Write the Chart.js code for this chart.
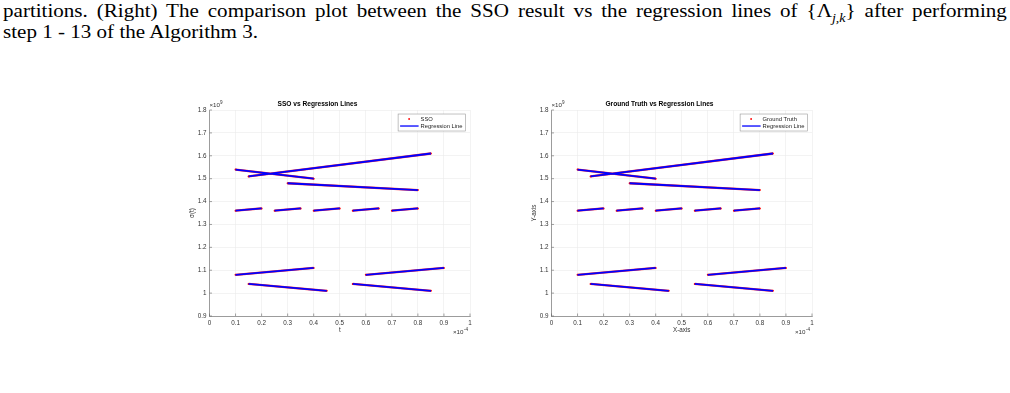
<!DOCTYPE html>
<html>
<head>
<meta charset="utf-8">
<script src="https://cdn.jsdelivr.net/npm/chart.js@4.4.1/dist/chart.umd.min.js"></script>
<style>
  body { margin: 0; background: #fff; width: 1010px; height: 393px; overflow: hidden; position: relative; }
  .cap { position: absolute; left: 3px; font-family: "Liberation Serif", "DejaVu Serif", serif; font-size: 18px; line-height: 21px; color: #000; white-space: nowrap; transform: scaleX(1.17); transform-origin: 0 0; }
  .l1 { top: 1px; width: 858px; text-align: justify; text-align-last: justify; white-space: normal; }
  .l2 { top: 22px; }
  sub { font-size: 12px; line-height: 0; }
  canvas { position: absolute; }
</style>
</head>
<body>
<div class="cap l1">partitions. (Right) The comparison plot between the SSO result vs the regression lines of {&Lambda;<sub><i>j,k</i></sub>} after performing</div>
<div class="cap l2">step 1 - 13 of the Algorithm 3.</div>
<canvas id="left" width="320" height="260" style="left:165px;top:90px;width:320px;height:260px"></canvas>
<canvas id="right" width="320" height="260" style="left:507px;top:90px;width:320px;height:260px"></canvas>
<script>
// segment end points, t in units of 1e-4, value in units of 1e9
const segT0 = [0.10, 0.15, 0.30, 0.10, 0.25, 0.40, 0.55, 0.70, 0.10, 0.15, 0.55, 0.60];
const segT1 = [0.40, 0.85, 0.80, 0.20, 0.35, 0.50, 0.65, 0.80, 0.40, 0.45, 0.85, 0.90];
const segY0 = [1.54, 1.51, 1.48, 1.36, 1.36, 1.36, 1.36, 1.36, 1.08, 1.04, 1.04, 1.08];
const segY1 = [1.50, 1.61, 1.45, 1.37, 1.37, 1.37, 1.37, 1.37, 1.11, 1.01, 1.01, 1.11];
const xTicks = [0, 0.1, 0.2, 0.3, 0.4, 0.5, 0.6, 0.7, 0.8, 0.9, 1];
const yTicks = [0.9, 1.0, 1.1, 1.2, 1.3, 1.4, 1.5, 1.6, 1.7, 1.8];

const FONT = '"Liberation Sans", Arial, sans-serif';

function segPoints() {
  const pts = [];
  for (let i = 0; i < segT0.length; i++) {
    pts.push({x: segT0[i], y: segY0[i]});
    pts.push({x: segT1[i], y: segY1[i]});
    pts.push({x: segT1[i], y: null});
  }
  return pts;
}

function fmt(v) {
  return String(Number(v.toFixed(1)));
}

// legend box, exponent labels and inward ticks, matlab style
const matlabBits = {
  id: 'matlabBits',
  afterDraw(chart) {
    const ctx = chart.ctx;
    const a = chart.chartArea;
    const xs = chart.scales.x, ys = chart.scales.y;
    ctx.save();
    // inward ticks
    ctx.strokeStyle = '#666';
    ctx.lineWidth = 0.6;
    ctx.beginPath();
    xTicks.forEach(v => {
      const px = xs.getPixelForValue(v);
      ctx.moveTo(px, a.bottom);
      ctx.lineTo(px, a.bottom - 2.5);
    });
    yTicks.forEach(v => {
      const py = ys.getPixelForValue(v);
      ctx.moveTo(a.left, py);
      ctx.lineTo(a.left + 2.5, py);
    });
    ctx.stroke();

    // exponents
    ctx.fillStyle = '#333';
    ctx.textBaseline = 'middle';
    ctx.textAlign = 'left';
    ctx.font = '6.2px ' + FONT;
    ctx.fillText('\u00d710', a.left, a.top - 4.5);
    ctx.font = '4.6px ' + FONT;
    ctx.fillText('9', a.left + 10.5, a.top - 7.5);
    ctx.font = '6.2px ' + FONT;
    ctx.fillText('\u00d710', a.right - 17, a.bottom + 16.5);
    ctx.font = '4.6px ' + FONT;
    ctx.fillText('-4', a.right - 6, a.bottom + 13.5);

    // legend
    const labels = chart.options.plugins.matlabBits.labels;
    ctx.font = '5.8px ' + FONT;
    const tw = Math.max(...labels.map(l => ctx.measureText(l).width));
    const bw = 22.5 + tw + 3;
    const bx = a.right - 4.5 - bw, by = a.top + 4;
    ctx.fillStyle = '#fff';
    ctx.fillRect(bx, by, bw, 17);
    ctx.strokeStyle = '#999';
    ctx.lineWidth = 0.6;
    ctx.strokeRect(bx, by, bw, 17);
    ctx.fillStyle = '#ff0000';
    ctx.beginPath();
    ctx.arc(bx + 11, by + 5, 0.9, 0, Math.PI * 2);
    ctx.fill();
    ctx.strokeStyle = '#0000ff';
    ctx.lineWidth = 1.3;
    ctx.beginPath();
    ctx.moveTo(bx + 2, by + 12);
    ctx.lineTo(bx + 20.5, by + 12);
    ctx.stroke();
    ctx.fillStyle = '#222';
    ctx.fillText(labels[0], bx + 22.5, by + 5);
    ctx.fillText(labels[1], bx + 22.5, by + 12);
    ctx.restore();
  }
};

function makeChart(id, title, refLabel, xTitle, yTitle) {
  new Chart(document.getElementById(id), {
    type: 'line',
    data: {
      datasets: [
        {
          label: 'Regression Line',
          data: segPoints(),
          borderColor: '#0000ff',
          borderWidth: 1.8,
          pointRadius: 0,
          order: 0
        },
        {
          label: refLabel,
          data: segPoints(),
          borderColor: '#ff3030',
          borderWidth: 2.3,
          pointRadius: 1,
          pointBackgroundColor: '#ff0000',
          pointBorderWidth: 0,
          order: 1
        }
      ]
    },
    options: {
      responsive: false,
      animation: false,
      spanGaps: false,
      layout: { padding: { left: 0, right: 15, top: 0, bottom: 0 } },
      plugins: {
        legend: { display: false },
        tooltip: { enabled: false },
        title: {
          display: true,
          text: title,
          color: '#000',
          font: { family: FONT, size: 6.6, weight: 'bold', lineHeight: 1.2 },
          padding: { top: 10.5, bottom: 1.6 }
        },
        matlabBits: { labels: [refLabel, 'Regression Line'] }
      },
      scales: {
        x: {
          type: 'linear',
          min: 0,
          max: 1,
          afterFit: s => { s.height = 34; },
          afterBuildTicks: s => { s.ticks = xTicks.map(v => ({value: v})); },
          ticks: { padding: 3, color: '#333', font: { family: FONT, size: 6.3 }, callback: fmt, maxRotation: 0 },
          grid: { color: '#ebebeb', lineWidth: 0.6, drawTicks: false },
          border: { display: true, color: '#777', width: 0.7 },
          title: { display: true, text: xTitle, color: '#333', font: { family: FONT, size: 6.3 }, padding: { top: 0, bottom: 15.5 } }
        },
        y: {
          type: 'linear',
          min: 0.9,
          max: 1.8,
          afterFit: s => { s.width = 44.5; },
          afterBuildTicks: s => { s.ticks = yTicks.map(v => ({value: v})); },
          ticks: { padding: 3, color: '#333', font: { family: FONT, size: 6.3 }, callback: fmt },
          grid: { color: '#ebebeb', lineWidth: 0.6, drawTicks: false },
          border: { display: true, color: '#777', width: 0.7 },
          title: { display: true, text: yTitle, color: '#333', font: { family: FONT, size: 6.3 }, padding: { top: 23, bottom: 0 } }
        }
      }
    },
    plugins: [matlabBits]
  });
}

makeChart('left', 'SSO vs Regression Lines', 'SSO', 't', '\u03c3(t)');
makeChart('right', 'Ground Truth vs Regression Lines', 'Ground Truth', 'X-axis', 'Y-axis');
</script>
</body>
</html>
